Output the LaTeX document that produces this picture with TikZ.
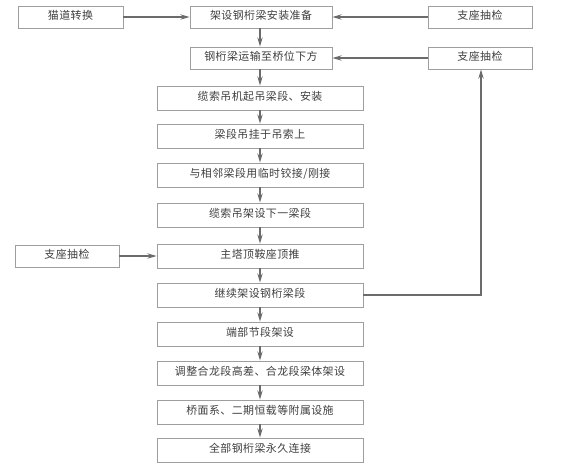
\documentclass[tikz,border=0pt]{standalone}
\usepackage{fontspec}
\newfontfamily\cjk[LetterSpace=4]{Noto Sans CJK SC}
\usetikzlibrary{arrows.meta}
\begin{document}
\begin{tikzpicture}[x=0.75pt,y=-0.75pt,
  stepbox/.style={draw=black!38,line width=0.6pt,fill=white,inner sep=0pt,
    font=\cjk\fontsize{8.2}{9}\selectfont,text=black!75,
    text height=6.6pt,text depth=2.6pt},
  topbox/.style={stepbox,minimum width=142*0.75pt,minimum height=22*0.75pt},
  sidebox/.style={stepbox,minimum width=104*0.75pt,minimum height=22*0.75pt},
  colbox/.style={stepbox,minimum width=206*0.75pt,minimum height=24*0.75pt},
  flow/.style={draw=black!58,line width=0.9pt,-{Stealth[length=7pt,width=4pt,inset=2.5pt]}}]
\useasboundingbox (0,0) rectangle (562,469);
\fill[white] (0,0) rectangle (562,469);
\node[sidebox,minimum width=105*0.75pt] (maodao) at (70.5,17) {猫道转换};
\node[topbox] (prep) at (261,17) {架设钢桁梁安装准备};
\node[sidebox] (zz1) at (480,17) {支座抽检};
\node[topbox] (trans) at (261,58) {钢桁梁运输至桥位下方};
\node[sidebox] (zz2) at (480,58) {支座抽检};
\node[colbox] (c1) at (260,98) {缆索吊机起吊梁段、安装};
\node[colbox] (c2) at (260,136) {梁段吊挂于吊索上};
\node[colbox] (c3) at (260,175) {与相邻梁段用临时铰接/刚接};
\node[colbox] (c4) at (260,215) {缆索吊架设下一梁段};
\node[colbox] (c5) at (260,256) {主塔顶鞍座顶推};
\node[colbox] (c6) at (260,295) {继续架设钢桁梁段};
\node[colbox] (c7) at (260,334) {端部节段架设};
\node[colbox] (c8) at (260,373) {调整合龙段高差、合龙段梁体架设};
\node[colbox] (c9) at (260,412) {桥面系、二期恒载等附属设施};
\node[colbox] (c10) at (260,450) {全部钢桁梁永久连接};
\node[sidebox] (zz3) at (67,256) {支座抽检};
\draw[flow] (maodao) -- (prep);
\draw[flow] (zz1) -- (prep);
\draw[flow] (zz2) -- (trans);
\draw[flow] (prep.south -| 260,0) -- (trans.north -| 260,0);
\draw[flow] (trans.south -| 260,0) -- (c1);
\draw[flow] (c1) -- (c2);
\draw[flow] (c2) -- (c3);
\draw[flow] (c3) -- (c4);
\draw[flow] (c4) -- (c5);
\draw[flow] (c5) -- (c6);
\draw[flow] (c6) -- (c7);
\draw[flow] (c7) -- (c8);
\draw[flow] (c8) -- (c9);
\draw[flow] (c9) -- (c10);
\draw[flow] (zz3) -- (c5);
\coordinate (corner) at (481,295);
\draw[flow] (c6.east) -- (corner) -- (zz2.south -| corner);
\end{tikzpicture}
\end{document}
